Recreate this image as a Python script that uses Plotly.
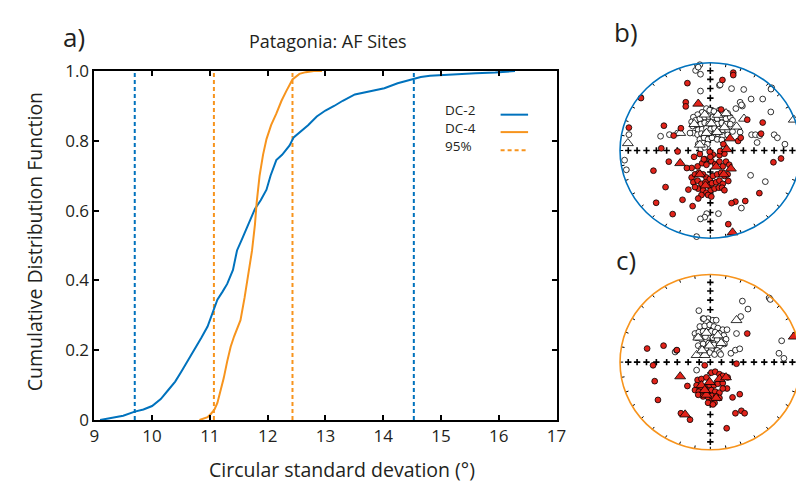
import numpy as np
import plotly.graph_objects as go

# ---------------- panel a: cumulative distributions ----------------
dc2_x = [9.10, 9.32, 9.50, 9.70, 9.85, 10.00, 10.15, 10.28, 10.40, 10.51, 10.62, 10.74, 10.85,
         10.96, 11.05, 11.13, 11.22, 11.30, 11.40, 11.47, 11.56, 11.64, 11.72, 11.78, 11.88, 11.98,
         12.05, 12.15, 12.25, 12.38, 12.45, 12.55, 12.70, 12.85, 13.00, 13.15, 13.30, 13.51,
         13.75, 14.02, 14.25, 14.47, 14.65, 14.81, 15.20, 15.60, 15.94, 16.28]
dc2_y = [0.000, 0.006, 0.012, 0.024, 0.030, 0.040, 0.060, 0.086, 0.110, 0.140, 0.170, 0.204, 0.235,
         0.268, 0.310, 0.345, 0.368, 0.390, 0.430, 0.486, 0.520, 0.550, 0.580, 0.605, 0.630, 0.660,
         0.700, 0.745, 0.760, 0.787, 0.810, 0.823, 0.845, 0.870, 0.887, 0.900, 0.915, 0.933,
         0.942, 0.951, 0.965, 0.976, 0.983, 0.987, 0.991, 0.994, 0.996, 1.000]
dc4_x = [10.82, 10.90, 10.96, 11.02, 11.08, 11.13, 11.18, 11.24, 11.30, 11.36, 11.42, 11.53,
         11.60, 11.65, 11.70, 11.73, 11.78, 11.81, 11.86, 11.92, 11.98, 12.06, 12.15, 12.24,
         12.32, 12.43, 12.55, 12.66, 12.80, 12.94]
dc4_y = [0.000, 0.004, 0.008, 0.018, 0.030, 0.049, 0.080, 0.120, 0.168, 0.210, 0.240, 0.286,
         0.350, 0.400, 0.450, 0.486, 0.560, 0.623, 0.700, 0.760, 0.805, 0.845, 0.878, 0.915,
         0.942, 0.976, 0.992, 0.997, 1.000, 1.000]
dc2_bounds = [9.70, 14.53]
dc4_bounds = [11.07, 12.43]

x_ticks = [9, 10, 11, 12, 13, 14, 15, 16, 17]
y_ticks = [0, 0.2, 0.4, 0.6, 0.8, 1.0]
y_tick_text = ["0", "0.2", "0.4", "0.6", "0.8", "1.0"]
legend_names = ["DC-2", "DC-4", "95%"]

# ---------------- panels b, c: equal-area projections (east, north) ----------------
b_red = [(-0.207,-0.308),(-0.170,-0.272),(-0.127,-0.254),(-0.080,-0.272),(-0.043,-0.308),(-0.007,-0.326),
         (0.029,-0.290),(0.076,-0.272),(0.120,-0.254),(0.156,-0.290),(0.192,-0.272),(-0.188,-0.362),
         (-0.141,-0.344),(-0.098,-0.380),(-0.054,-0.362),(-0.018,-0.399),(0.018,-0.373),(0.065,-0.362),
         (0.101,-0.344),(0.138,-0.380),(-0.134,-0.435),(-0.080,-0.453),(-0.043,-0.482),(0.004,-0.453),
         (0.047,-0.435),(0.094,-0.424),(0.130,-0.424),(0.156,-0.453),(-0.170,-0.417),(-0.207,-0.199),
         (-0.141,-0.181),(-0.091,-0.145),(-0.043,-0.163),(0.011,-0.120),(0.054,-0.156),(0.101,-0.127),
         (0.138,-0.181),(0.174,-0.127),(0.210,-0.163),(0.101,-0.054),(0.156,-0.036),(0.029,-0.047),
         (-0.062,-0.098),(-0.025,-0.507),(-0.098,-0.507),(0.011,-0.525),(0.199,-0.348),
         (0.254,0.888),(0.254,0.860),(0.134,0.804),(-0.254,0.768),(-0.768,0.598),(-0.272,0.550),
         (-0.272,0.503),(-0.514,0.283),(-0.326,0.254),(-0.406,0.170),(-0.902,0.261),(-0.543,0.025),
         (-0.362,-0.011),(-0.460,-0.127),(-0.630,-0.230),(-0.496,-0.417),(-0.600,-0.596),(-0.417,-0.725),
         (-0.308,-0.562),(-0.196,-0.634),(-0.134,-0.547),(-0.243,-0.446),(-0.260,-0.200),(-0.007,-0.015),
         (0.109,-0.007),(0.145,0.072),(0.308,0.109),(0.337,0.145),(0.409,0.351),(0.580,0.319),
         (0.562,0.192),(0.699,-0.134),(0.783,-0.091),(0.543,-0.486),(0.387,-0.576),(0.278,-0.583),
         (0.235,-0.600),(0.199,-0.840),(0.120,0.467),(-0.180,-0.072),(-0.072,-0.100),(0.000,-0.072),
         (-0.116,-0.040)]
b_red_tri = [(-0.134,0.533),(-0.334,-0.145),(0.217,0.137),(0.181,0.014),(0.065,-0.185),(0.228,-0.207),
             (-0.116,-0.272),(0.149,-0.272),(-0.054,-0.399),(0.246,-0.935)]
b_open = [(-0.043,0.478),(-0.007,0.460),(0.040,0.446),(0.101,0.460),(0.138,0.435),(0.192,0.424),
          (-0.091,0.435),(-0.141,0.409),(-0.188,0.380),(-0.207,0.326),(-0.163,0.344),(-0.116,0.362),
          (-0.062,0.380),(-0.018,0.388),(0.029,0.380),(0.076,0.362),(0.127,0.380),(0.174,0.362),
          (0.221,0.380),(0.246,0.344),(-0.196,0.279),(-0.152,0.290),(-0.105,0.301),(-0.062,0.315),
          (-0.018,0.301),(0.029,0.315),(0.076,0.301),(0.127,0.315),(0.174,0.301),(0.221,0.301),
          (-0.134,0.236),(-0.091,0.243),(-0.043,0.254),(0.004,0.243),(0.047,0.254),(0.094,0.243),
          (0.138,0.236),(0.192,0.228),(0.246,0.217),(-0.188,0.199),(-0.141,0.181),(-0.098,0.192),
          (-0.054,0.199),(-0.007,0.192),(0.040,0.181),(0.083,0.192),(0.138,0.170),(0.192,0.178),
          (-0.116,0.127),(-0.069,0.145),(-0.025,0.127),(0.018,0.145),(0.076,0.127),(0.127,0.120),
          (-0.134,0.072),(-0.080,0.083),(-0.033,0.072),(-0.105,0.018),(-0.062,0.036),
          (-0.116,0.978),(-0.163,0.913),(-0.134,0.950),(-0.109,0.870),(-0.109,0.678),(0.101,0.743),
          (0.109,0.750),(0.235,0.706),(0.370,0.696),(0.680,0.715),(0.672,0.700),(0.452,0.587),
          (0.580,0.587),(0.670,0.440),(0.330,0.550),(0.355,0.507),(0.283,0.478),(0.345,0.520),
          (-0.453,0.181),(-0.551,0.163),(-0.362,0.199),(-0.225,0.199),(0.457,0.180),(0.500,0.180),
          (0.547,0.170),(0.518,0.091),(0.707,0.180),(0.743,0.145),(0.826,0.072),(0.330,0.210),
          (-0.902,0.181),(-0.950,-0.110),(-0.930,-0.220),(0.446,-0.283),(0.609,-0.355),(0.344,-0.656),
          (-0.040,-0.720),(-0.062,-0.760),(-0.110,-0.780),(0.090,-0.720),(-0.152,-0.982)]
b_open_tri = [(-0.062,0.409),(0.083,0.406),(0.174,0.424),(-0.178,0.301),(-0.043,0.199),(0.076,0.210),
              (0.156,0.264),(0.011,0.308),(-0.116,0.065),(-0.333,0.199),(-0.913,0.083),(0.290,0.272),
              (0.373,0.362),(0.924,0.351)]

c_red = [(-0.141,-0.203),(-0.098,-0.192),(-0.043,-0.174),(0.011,-0.120),(0.054,-0.109),(0.101,-0.138),
         (0.138,-0.156),(0.192,-0.174),(-0.152,-0.264),(-0.105,-0.283),(-0.054,-0.283),(-0.007,-0.264),
         (0.040,-0.264),(0.083,-0.246),(0.138,-0.239),(0.185,-0.301),(-0.170,-0.319),(-0.127,-0.337),
         (-0.080,-0.348),(-0.033,-0.337),(0.011,-0.319),(0.054,-0.337),(0.101,-0.348),(-0.134,-0.373),
         (-0.080,-0.391),(-0.025,-0.399),(0.018,-0.384),(0.065,-0.391),(0.011,-0.446),(0.047,-0.464),
         (-0.025,-0.464),(0.029,-0.482),(0.101,-0.409),(0.138,-0.301),
         (0.409,0.326),(-0.700,0.155),(-0.518,0.188),(-0.370,0.137),(-0.634,-0.036),(-0.062,-0.036),
         (0.290,-0.018),(-0.616,-0.217),(-0.254,-0.272),(-0.580,-0.431),(-0.326,-0.583),(-0.225,-0.656),
         (0.181,-0.754),(0.278,-0.583),(0.344,-0.555),(0.380,-0.583),(0.326,-0.366),(0.246,-0.402)]
c_red_tri = [(-0.334,-0.163),(0.924,0.290),(-0.279,-0.598),(-0.098,-0.264),(-0.007,-0.228),(0.101,-0.192),
             (0.174,-0.174),(-0.043,-0.373),(0.065,-0.409),(-0.062,-0.319)]
c_open = [(-0.080,0.496),(-0.025,0.496),(0.029,0.478),(0.065,0.478),(-0.043,0.460),(-0.116,0.406),
          (-0.062,0.413),(-0.007,0.424),(0.040,0.406),(0.083,0.388),(0.138,0.370),(0.185,0.370),
          (-0.170,0.326),(-0.127,0.341),(-0.080,0.351),(-0.033,0.341),(0.011,0.351),(0.054,0.341),
          (0.101,0.326),(0.149,0.304),(0.174,0.261),(-0.152,0.279),(-0.098,0.261),(-0.054,0.290),
          (0.029,0.279),(0.076,0.261),(0.127,0.225),(0.156,0.207),(-0.134,0.188),(-0.080,0.207),
          (-0.018,0.217),(0.040,0.196),(0.101,0.181),(-0.098,0.152),(-0.043,0.159),(0.011,0.145),
          (0.076,0.134),(-0.062,0.098),(-0.007,0.109),(0.047,0.087),(0.101,0.109),
          (0.355,0.696),(0.417,0.605),(0.652,0.732),(0.665,0.715),(-0.127,0.587),(0.337,0.520),
          (0.790,0.243),(0.760,0.101),(0.815,0.043),(0.290,0.326),(0.228,0.101),(0.278,0.137),
          (0.326,0.152),(0.115,0.087),(-0.152,-0.091),(-0.390,0.116),(-0.374,0.134),(-0.072,0.496)]
c_open_tri = [(0.290,0.478),(-0.134,0.279),(-0.043,0.333),(0.083,0.304),(0.120,0.217),(-0.007,0.188),
              (-0.152,0.080),(-0.062,0.080),(-0.091,0.134)]

BLUE = "#0072BD"
ORANGE = "#F7941D"
RED = "#E2231A"
FONT = "Open Sans"
TXT = "#231F20"

W, H = 806, 492
def px(x):
    return x / W
def py(y):
    return 1 - y / H

fig = go.Figure()

# --- panel a traces ---
for v in dc2_bounds:
    fig.add_trace(go.Scatter(x=[v, v], y=[0, 1], mode="lines", xaxis="x", yaxis="y",
                             line=dict(color=BLUE, width=2, dash="4px,3px"), cliponaxis=False,
                             hoverinfo="skip"))
for v in dc4_bounds:
    fig.add_trace(go.Scatter(x=[v, v], y=[0, 1], mode="lines", xaxis="x", yaxis="y",
                             line=dict(color=ORANGE, width=2, dash="4px,3px"), cliponaxis=False,
                             hoverinfo="skip"))
fig.add_trace(go.Scatter(x=dc2_x, y=dc2_y, mode="lines", name=legend_names[0], xaxis="x", yaxis="y",
                         line=dict(color=BLUE, width=2), cliponaxis=False))
fig.add_trace(go.Scatter(x=dc4_x, y=dc4_y, mode="lines", name=legend_names[1], xaxis="x", yaxis="y",
                         line=dict(color=ORANGE, width=2), cliponaxis=False))

# --- stereonets ---
def rim_ticks():
    xs, ys = [], []
    for a in np.deg2rad(np.arange(0, 360, 10)):
        xs += [np.sin(a) * 1.0, np.sin(a) * 0.965, None]
        ys += [np.cos(a) * 1.0, np.cos(a) * 0.965, None]
    return xs, ys

cross_r = np.sqrt(2) * np.sin(np.deg2rad(np.arange(0, 90, 10)) / 2)
cross_x = list(cross_r) + list(-cross_r[1:]) + [0] * 16
cross_y = [0] * 17 + list(cross_r[1:]) + list(-cross_r[1:])

def add_net(xa, ya, red, red_tri, opn, opn_tri):
    tx, ty = rim_ticks()
    fig.add_trace(go.Scatter(x=tx, y=ty, mode="lines", xaxis=xa, yaxis=ya,
                             line=dict(color="black", width=1), hoverinfo="skip"))
    fig.add_trace(go.Scatter(x=cross_x, y=cross_y, mode="markers", xaxis=xa, yaxis=ya,
                             marker=dict(symbol="cross-thin", size=4.6, line=dict(color="black", width=1.6)),
                             hoverinfo="skip"))
    for pts, sym, size, fill in [(opn, "circle", 5.8, "white"), (opn_tri, "triangle-up", 9.5, "white"),
                                 (red, "circle", 5.8, RED), (red_tri, "triangle-up", 9.5, RED)]:
        fig.add_trace(go.Scatter(x=[p[0] for p in pts], y=[p[1] for p in pts], mode="markers",
                                 xaxis=xa, yaxis=ya,
                                 marker=dict(symbol=sym, size=size, color=fill,
                                             line=dict(color="black", width=0.8))))

add_net("x2", "y2", b_red, b_red_tri, b_open, b_open_tri)
add_net("x3", "y3", c_red, c_red_tri, c_open, c_open_tri)

cx, R = 718.7, 92.0
by0, cy0 = 145.3, 367.3
net_x_range = [(622 - cx) / R, (806 - cx) / R]

axis_common = dict(showline=True, linecolor="black", linewidth=1.6, mirror="allticks",
                   ticks="inside", ticklen=5, tickwidth=1.5, tickcolor="black",
                   showgrid=False, zeroline=False, tickfont=dict(family=FONT, size=17, color=TXT))

hidden = dict(visible=False, showgrid=False, zeroline=False, fixedrange=True)

fig.update_layout(
    width=W, height=H, margin=dict(l=0, r=0, t=0, b=0),
    paper_bgcolor="white", plot_bgcolor="white", showlegend=False,
    font=dict(family=FONT, color=TXT),
    xaxis=dict(domain=[px(91), px(562)], range=[9, 17], tickvals=x_ticks, anchor="y", **axis_common),
    yaxis=dict(domain=[py(428), py(62)], range=[0, 1], tickvals=y_ticks, ticktext=y_tick_text,
               anchor="x", **axis_common),
    xaxis2=dict(domain=[px(622), 1], range=net_x_range, anchor="y2", **hidden),
    yaxis2=dict(domain=[py(240), py(50)], range=[(by0 - 240) / R, (by0 - 50) / R], anchor="x2", **hidden),
    xaxis3=dict(domain=[px(622), 1], range=net_x_range, anchor="y3", **hidden),
    yaxis3=dict(domain=[py(462), py(272)], range=[(cy0 - 462) / R, (cy0 - 272) / R], anchor="x3", **hidden),
)

shapes = [
    dict(type="circle", xref="x2", yref="y2", x0=-1, x1=1, y0=-1, y1=1, line=dict(color=BLUE, width=1.6)),
    dict(type="circle", xref="x3", yref="y3", x0=-1, x1=1, y0=-1, y1=1, line=dict(color=ORANGE, width=1.6)),
]
# legend samples
for yy, col, dash in [(107.7, BLUE, "solid"), (126, ORANGE, "solid"), (145, ORANGE, "4px,3px")]:
    shapes.append(dict(type="line", xref="paper", yref="paper", x0=px(505), x1=px(533), y0=py(yy), y1=py(yy),
                       line=dict(color=col, width=2, dash=dash)))
fig.update_layout(shapes=shapes)

ann = []
def txt(t, x, y, size, xanchor="center", angle=0):
    ann.append(dict(text=t, x=px(x), y=py(y), xref="paper", yref="paper", showarrow=False,
                    xanchor=xanchor, yanchor="middle", textangle=angle, borderpad=0,
                    font=dict(family=FONT, size=size, color=TXT)))

txt("a)", 70, 26, 26)
txt("b)", 633, 21, 26)
txt("c)", 633, 260, 26)
txt("Patagonia: AF Sites", 329, 30, 18)
txt("Cumulative Distribution Function", 30, 241, 19.5, angle=-90)
txt("Circular standard devation (°)", 343, 480, 19.5)
for name, yy in zip(legend_names, [103, 121.7, 140.4]):
    txt(name, 447, yy, 13.5, xanchor="left")
fig.update_layout(annotations=ann)

fig.write_html("out.html")
